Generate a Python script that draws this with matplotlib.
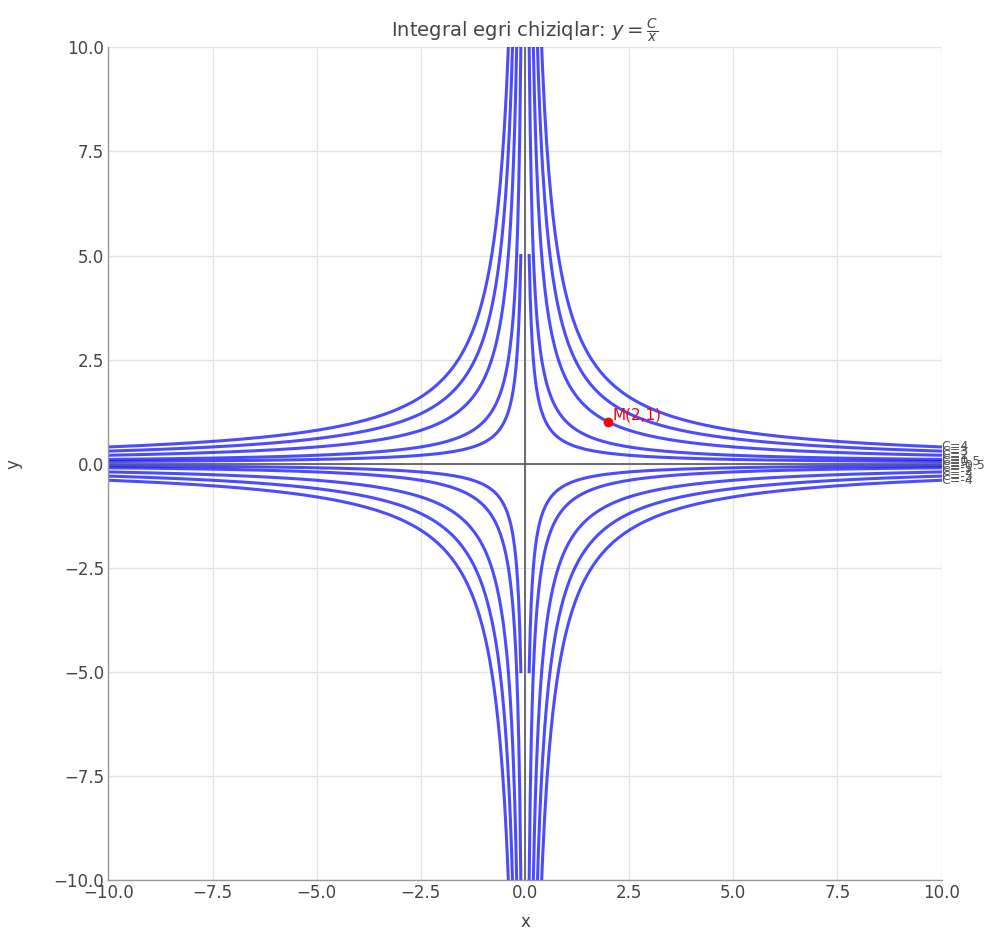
import numpy as np
import matplotlib
matplotlib.use("Agg")
import matplotlib.pyplot as plt

# Data
C_values = [-4, -3, -2, -1, -0.5, 0.5, 1, 2, 3, 4]
x_min, x_max = 0.1, 10
point_M = (2, 1)
point_label = "M(2,1)"
title = r"Integral egri chiziqlar: $y = \frac{C}{x}$"

fig = plt.figure(figsize=(9.85, 9.3), dpi=100)
ax = fig.add_axes([0.11, 0.054, 0.846, 0.895])

x_pos = np.linspace(x_min, x_max, 400)
x_neg = -x_pos[::-1]

for C in C_values:
    ax.plot(x_pos, C / x_pos, color="blue", alpha=0.7, lw=2.2)
    ax.plot(x_neg, C / x_neg, color="blue", alpha=0.7, lw=2.2)
    ax.text(x_max, C / x_max, f"C={C}", fontsize=9, va="center", ha="left",
            color="#555555")

ax.axhline(0, color="#555555", lw=1.2)
ax.axvline(0, color="#555555", lw=1.2)

ax.plot(*point_M, "o", color="red", ms=6)
ax.text(point_M[0] + 0.1, point_M[1] + 0.05, point_label, color="red",
        fontsize=11)

ax.set_xlim(-10, 10)
ax.set_ylim(-10, 10)
ax.set_title(title, fontsize=14, color="#444444", pad=8)
ax.set_xlabel("x", fontsize=12, color="#444444", labelpad=8)
ax.set_ylabel("y", fontsize=12, color="#444444", labelpad=22)
ax.grid(True, color="#e3e3e3", lw=1)
ax.set_axisbelow(True)
ax.tick_params(direction="in", length=0, labelsize=12, colors="#444444", pad=3)
for side in ["top", "right"]:
    ax.spines[side].set_visible(False)
for side in ["left", "bottom"]:
    ax.spines[side].set_color("#999999")
    ax.spines[side].set_linewidth(1)

fig.savefig("out.png", dpi=100)
